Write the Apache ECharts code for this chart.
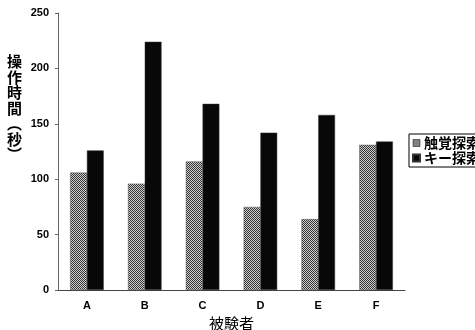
<!DOCTYPE html>
<html><head><meta charset="utf-8">
<script src="https://cdn.jsdelivr.net/npm/echarts@6/dist/echarts.min.js"></script>
<style>html,body{margin:0;padding:0;background:#fff}#c{width:475px;height:330px}</style>
</head><body><div id="c"></div>
<script>
const categories = ['A','B','C','D','E','F'];
const tactile = [106, 96, 116, 75, 64, 131];
const keySearch = [126, 224, 168, 142, 158, 134];
const yTicks = [0, 50, 100, 150, 200, 250];
const seriesNames = ['触覚探索', 'キー探索'];
const yNameChars = ['操', '作', '時', '間', '︵', '秒', '︶'];

const cv = document.createElement('canvas');
cv.width = 2; cv.height = 2;
const cx = cv.getContext('2d');
cx.fillStyle = '#d0d0d0'; cx.fillRect(0,0,2,2);
cx.fillStyle = '#333'; cx.fillRect(0,0,1,1); cx.fillRect(1,1,1,1);
const pattern = {image: cv, repeat: 'repeat'};

const chart = echarts.init(document.getElementById('c'), null, {renderer:'canvas'});
const font = '"Liberation Sans", Arial, sans-serif';
chart.setOption({
  animation: false,
  grid: {left: 58, right: 70, top: 13, bottom: 40, containLabel: false, outerBoundsMode: 'none'},
  legend: {
    orient: 'vertical', left: 409, top: 134, itemWidth: 7, itemHeight: 7, itemGap: 1,
    padding: [2, 6, 2, 3], borderColor: '#000', borderWidth: 1,
    textStyle: {fontFamily: '"Noto Sans CJK JP"', fontWeight: 'bold', fontSize: 14, color: '#000', padding:[0,0,0,-1], lineHeight: 14},
    data: [{name: seriesNames[0], icon: 'rect', itemStyle:{borderColor:'#000',borderWidth:0.5}}, {name: seriesNames[1], icon: 'rect'}]
  },
  graphic: [{
    type: 'text', left: 7, top: 54,
    style: {text: yNameChars.join('\n'), font: 'bold 15px "Noto Sans CJK JP"', fill: '#000', lineHeight: 15.5}
  }],
  xAxis: {
    type: 'category', data: categories,
    name: '被験者', nameLocation: 'middle', nameGap: 25,
    nameTextStyle: {fontFamily: '"Noto Sans CJK JP"', fontSize: 15, color: '#000'},
    axisLine: {lineStyle: {color: '#444', width: 1}},
    axisTick: {inside: true, length: 4, lineStyle: {color: '#444'}},
    axisLabel: {fontFamily: font, fontWeight: 'bold', fontSize: 11, color: '#000', margin: 10}
  },
  yAxis: {
    type: 'value', min: 0, max: 250, interval: 50,
    axisLine: {show: true, lineStyle: {color: '#666', width: 1}},
    axisTick: {show: true, length: 3, lineStyle: {color: '#666'}},
    splitLine: {show: false},
    axisLabel: {fontFamily: font, fontWeight: 'bold', fontSize: 11, color: '#000', margin: 9,
      formatter: v => yTicks.includes(v) ? String(v) : ''}
  },
  series: [
    {name: seriesNames[0], type: 'bar', data: tactile, barWidth: '29%', barGap: '0%',
     itemStyle: {color: pattern, borderColor: '#555', borderWidth: 0.5}},
    {name: seriesNames[1], type: 'bar', data: keySearch, barWidth: '29%',
     itemStyle: {color: '#080808', borderColor: '#333', borderWidth: 0.5}}
  ]
});
</script></body></html>
